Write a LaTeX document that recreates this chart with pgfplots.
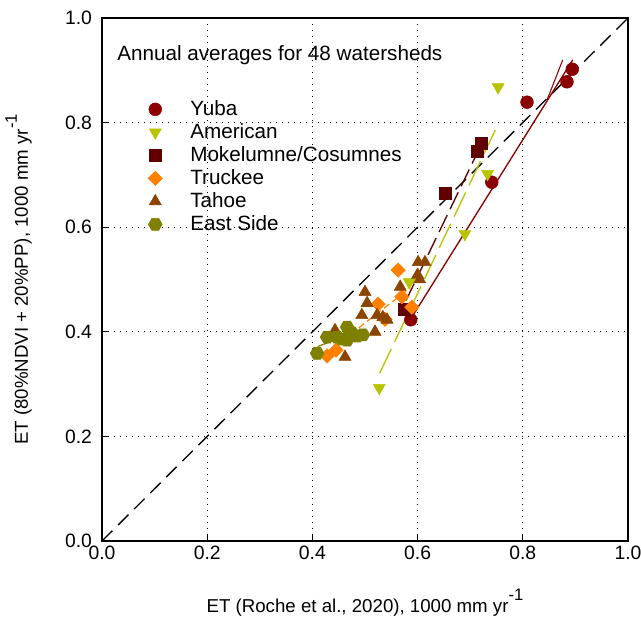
\documentclass[border=0pt]{standalone}
\usepackage{pgfplots}
\pgfplotsset{compat=1.18}
\usepackage{fontspec}
\setmainfont{Liberation Sans}
\usetikzlibrary{plotmarks}

\definecolor{yuba}{RGB}{139,0,0}
\definecolor{american}{RGB}{185,196,0}
\definecolor{mokel}{RGB}{96,0,0}
\definecolor{truckee}{RGB}{255,128,0}
\definecolor{tahoe}{RGB}{139,69,0}
\definecolor{eastside}{RGB}{128,128,0}

% filled hexagon marker
\pgfdeclareplotmark{hexagon*}{%
  \pgfpathmoveto{\pgfpoint{\pgfplotmarksize}{0pt}}%
  \pgfpathlineto{\pgfpointpolar{60}{\pgfplotmarksize}}%
  \pgfpathlineto{\pgfpointpolar{120}{\pgfplotmarksize}}%
  \pgfpathlineto{\pgfpointpolar{180}{\pgfplotmarksize}}%
  \pgfpathlineto{\pgfpointpolar{240}{\pgfplotmarksize}}%
  \pgfpathlineto{\pgfpointpolar{300}{\pgfplotmarksize}}%
  \pgfpathclose
  \pgfusepathqfillstroke}

\newcommand{\lbl}{\fontsize{14}{16}\selectfont}
\newcommand{\leg}{\fontsize{15.5}{17}\selectfont}
\newcommand{\supm}{\raisebox{0.6em}{\fontsize{12.5}{12.5}\selectfont -1}}

\begin{document}
\begin{tikzpicture}
\begin{axis}[
  name=ax,
  scale only axis,
  width=394.5pt, height=392.25pt,
  xmin=0, xmax=1, ymin=0, ymax=1,
  xtick={0,0.2,0.4,0.6,0.8,1},
  ytick={0,0.2,0.4,0.6,0.8,1},
  tick align=inside, xtick pos=bottom, ytick pos=left,
  major tick length=5pt,
  axis line style={line width=1pt},
  tick style={black, line width=1pt},
  grid=major,
  major grid style={black, line width=0.9pt, dash pattern=on 0.9pt off 3.6pt},
  /pgf/number format/assume math mode=true,
  xticklabel={\pgfmathprintnumber[fixed,fixed zerofill,precision=1]{\tick}},
  yticklabel={\pgfmathprintnumber[fixed,fixed zerofill,precision=1]{\tick}},
  ticklabel style={font=\fontsize{14.5}{17}\selectfont},
  yticklabel style={xshift=-4pt},
  xlabel={ET (Roche et al., 2020), 1000 mm yr\supm},
  ylabel={ET (80\%NDVI + 20\%PP), 1000 mm yr\supm},
  xlabel style={at={(axis description cs:0.5,-0.1358)}, anchor=base, font=\lbl, inner sep=0pt},
  ylabel style={at={(axis description cs:-0.1407,0.5)}, anchor=base, font=\lbl, inner sep=0pt},
  legend style={at={(axis cs:0.0856,0.844)}, anchor=north west, draw=none, fill=none,
    inner sep=0pt, row sep=3pt, font=\leg,
    nodes={inner sep=0pt, text height=11.5pt, text depth=2.75pt}},
  legend cell align=left,
  legend image code/.code={\draw[#1] plot coordinates {(0pt,0pt)};
    \path[draw=none, fill=none] (-6pt,-4pt) rectangle (26.25pt,4pt);},
]

% one-to-one line
\addplot[black, line width=1pt, dash pattern=on 11pt off 6pt, forget plot] coordinates {(0,0) (1,1)};

% regression lines by region
\addplot[yuba, line width=1pt, forget plot] coordinates {(0.586,0.423) (0.895,0.920)};
\addplot[yuba, line width=0.8pt, forget plot] coordinates {(0.846,0.843) (0.876,0.920)};
\addplot[american, line width=1pt, dash pattern=on 20pt off 6pt, forget plot] coordinates {(0.528,0.321) (0.753,0.797)};
\addplot[mokel, line width=1pt, dash pattern=on 14pt off 5pt, forget plot] coordinates {(0.578,0.460) (0.722,0.760)};
\addplot[truckee, line width=0.9pt, dash pattern=on 5pt off 3pt, forget plot] coordinates {(0.440,0.370) (0.586,0.484)};
\addplot[eastside, line width=0.9pt, forget plot] coordinates {(0.410,0.372) (0.500,0.405)};

% watershed averages
\addplot[only marks, mark=*, mark size=4.8pt, color=yuba] coordinates {
  (0.894,0.902) (0.884,0.878) (0.808,0.839) (0.741,0.686) (0.587,0.423)};
\addlegendentry{Yuba}

\addplot[only marks, mark=triangle*, mark size=5.2pt, color=american, mark options={rotate=180}] coordinates {
  (0.753,0.868) (0.733,0.702) (0.690,0.587) (0.584,0.495) (0.527,0.293)};
\addlegendentry{American}

\addplot[only marks, mark=square*, mark size=4.5pt, color=mokel] coordinates {
  (0.575,0.443) (0.652,0.665) (0.713,0.745) (0.721,0.760)};
\addlegendentry{Mokelumne/Cosumnes}

\addplot[only marks, mark=square*, mark size=3.8pt, color=truckee, mark options={rotate=45}] coordinates {
  (0.563,0.518) (0.570,0.467) (0.589,0.447) (0.525,0.453) (0.538,0.424) (0.445,0.365) (0.428,0.354)};
\addlegendentry{Truckee}

\addplot[only marks, mark=triangle*, mark size=5.2pt, color=tahoe] coordinates {
  (0.601,0.533) (0.614,0.533) (0.600,0.509) (0.604,0.500) (0.567,0.486) (0.500,0.476) (0.504,0.455)
  (0.494,0.432) (0.523,0.432) (0.534,0.428) (0.542,0.423) (0.519,0.400) (0.443,0.403) (0.462,0.352)};
\addlegendentry{Tahoe}

\addplot[only marks, mark=hexagon*, mark size=5.2pt, color=eastside] coordinates {
  (0.409,0.359) (0.428,0.390) (0.447,0.390) (0.456,0.386) (0.466,0.409) (0.475,0.398) (0.466,0.384)
  (0.485,0.392) (0.496,0.394)};
\addlegendentry{East Side}

\node[anchor=base west, inner sep=0pt, font=\leg] at (axis cs:0.0285,0.918) {Annual averages for 48 watersheds};
\end{axis}
\pgfresetboundingbox
\path ([shift={(-76.5pt,-68.25pt)}]ax.south west) rectangle ([shift={(9.75pt,13.5pt)}]ax.north east);
\end{tikzpicture}
\end{document}
